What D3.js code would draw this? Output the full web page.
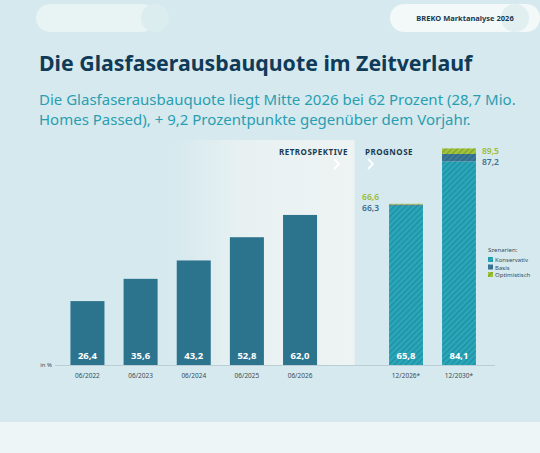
<!DOCTYPE html>
<html><head><meta charset="utf-8">
<script src="https://cdn.jsdelivr.net/npm/d3@7"></script>
<style>body{margin:0;background:#d5e9ee;}svg{display:block;font-family:"Noto Sans",sans-serif;}</style>
</head><body><svg id="c" width="540" height="453"></svg>
<script>
const retroCats=["06/2022","06/2023","06/2024","06/2025","06/2026"];
const retroVals=[26.4,35.6,43.2,52.8,62.0];
const progCats=["12/2026*","12/2030*"];
const konservativ=[65.8,84.1];
const basis=[66.3,87.2];
const optimistisch=[66.6,89.5];
const legendLabels=["Konservativ","Basis","Optimistisch"];

const svg=d3.select("#c");
const defs=svg.append("defs");
const lg=defs.append("linearGradient").attr("id","g").attr("x1",0).attr("x2",1);
lg.append("stop").attr("offset",0).attr("stop-color","#d5e9ee");
lg.append("stop").attr("offset",0.4).attr("stop-color","#e8f1f2");
lg.append("stop").attr("offset",1).attr("stop-color","#eef3f3");
function hatch(id,bg,fg){const p=defs.append("pattern").attr("id",id).attr("width",4).attr("height",4).attr("patternUnits","userSpaceOnUse").attr("patternTransform","rotate(45)");
p.append("rect").attr("width",4).attr("height",4).attr("fill",bg);p.append("rect").attr("width",1.3).attr("height",4).attr("fill",fg);}
hatch("hk","#2aa7b9","#1f8ea2");hatch("hb","#3d7a99","#2d6684");hatch("ho","#a4c43c","#7fa32a");
const fills=["url(#hk)","url(#hb)","url(#ho)"];
const labelCols=["#fff","#3d6f8e","#9bbb35"];

svg.append("rect").attr("x",36).attr("y",4).attr("width",120).attr("height",28).attr("rx",14).attr("fill","#e8f3f4");
svg.append("circle").attr("cx",155).attr("cy",18).attr("r",14).attr("fill","#dcedf0");
svg.append("rect").attr("x",390).attr("y",4).attr("width",150).attr("height",28).attr("rx",14).attr("fill","#f3f8f8");
svg.append("circle").attr("cx",515).attr("cy",18).attr("r",14).attr("fill","#e1eff1");
svg.append("text").attr("x",465).attr("y",21).attr("text-anchor","middle").attr("font-size",7.5).attr("font-weight",700).attr("fill","#173a50").text("BREKO Marktanalyse 2026");
svg.append("text").attr("x",39).attr("y",71).attr("font-size",21.3).attr("font-weight",700).attr("fill","#0f3a58").text("Die Glasfaserausbauquote im Zeitverlauf");
svg.append("text").attr("x",39).attr("y",105).attr("font-size",15).attr("fill","#2a9eb1").text("Die Glasfaserausbauquote liegt Mitte 2026 bei 62 Prozent (28,7 Mio.");
svg.append("text").attr("x",39).attr("y",125).attr("font-size",15).attr("fill","#2a9eb1").text("Homes Passed), + 9,2 Prozentpunkte gegenüber dem Vorjahr.");
svg.append("rect").attr("x",0).attr("y",422).attr("width",540).attr("height",31).attr("fill","#eef5f6");

const y=d3.scaleLinear().domain([0,100]).range([365,123]);
const xr=d3.scaleBand().domain(retroCats).range([54.5,333]).paddingInner(0.36).paddingOuter(0.3);
const xp=d3.scaleBand().domain(progCats).range([370,495]).paddingInner(0.36).paddingOuter(0.36);

svg.append("rect").attr("x",170).attr("y",140).attr("width",185).attr("height",225).attr("fill","url(#g)");
svg.append("line").attr("x1",355).attr("x2",355).attr("y1",140).attr("y2",365).attr("stroke","#dbe9ec");

svg.append("text").attr("x",348).attr("y",155).attr("text-anchor","end").attr("font-size",8).attr("font-weight",700).attr("fill","#173a50").attr("letter-spacing",0.5).text("RETROSPEKTIVE");
svg.append("text").attr("x",365).attr("y",155).attr("font-size",8).attr("font-weight",700).attr("fill","#173a50").attr("letter-spacing",0.5).text("PROGNOSE");
svg.append("path").attr("d","M334,159 l5,5 l-5,5").attr("fill","none").attr("stroke","#fff").attr("stroke-width",1.8);
svg.append("path").attr("d","M368,159 l5,5 l-5,5").attr("fill","none").attr("stroke","#fff").attr("stroke-width",1.8);

svg.selectAll(".rb").data(retroVals).join("rect").attr("x",(d,i)=>xr(retroCats[i])).attr("width",xr.bandwidth()).attr("y",d=>y(d)).attr("height",d=>y(0)-y(d)).attr("fill","#2c738e");
svg.selectAll(".rl").data(retroVals).join("text").attr("x",(d,i)=>xr(retroCats[i])+xr.bandwidth()/2).attr("y",359).attr("text-anchor","middle").attr("font-size",9.5).attr("font-weight",700).attr("fill","#fff").text(d=>d.toFixed(1).replace(".",","));

const series=[konservativ,basis,optimistisch];
progCats.forEach((c,i)=>{
  let prev=0;
  series.forEach((s,k)=>{svg.append("rect").attr("x",xp(c)).attr("width",xp.bandwidth()).attr("y",y(s[i])).attr("height",y(prev)-y(s[i])).attr("fill",fills[k]);prev=s[i];});
  svg.append("text").attr("x",xp(c)+xp.bandwidth()/2).attr("y",359).attr("text-anchor","middle").attr("font-size",9.5).attr("font-weight",700).attr("fill","#fff").text(konservativ[i].toFixed(1).replace(".",","));
});
svg.append("text").attr("x",xp(progCats[0])-10).attr("y",y(optimistisch[0])-4).attr("text-anchor","end").attr("font-size",8.5).attr("font-weight",600).attr("fill",labelCols[2]).text("66,6");
svg.append("text").attr("x",xp(progCats[0])-10).attr("y",y(optimistisch[0])+7).attr("text-anchor","end").attr("font-size",8.5).attr("font-weight",600).attr("fill",labelCols[1]).text("66,3");
svg.append("text").attr("x",xp(progCats[1])+xp.bandwidth()+6).attr("y",y(optimistisch[1])+6).attr("font-size",8.5).attr("font-weight",600).attr("fill",labelCols[2]).text("89,5");
svg.append("text").attr("x",xp(progCats[1])+xp.bandwidth()+6).attr("y",y(optimistisch[1])+17).attr("font-size",8.5).attr("font-weight",600).attr("fill",labelCols[1]).text("87,2");

const ax=svg.append("g").attr("transform","translate(0,365)");
ax.call(d3.axisBottom(xr).tickSize(0).tickPadding(8));
const ax2=svg.append("g").attr("transform","translate(0,365)");
ax2.call(d3.axisBottom(xp).tickSize(0).tickPadding(8));
[ax,ax2].forEach(a=>{a.select(".domain").attr("stroke","#b9cfd5");a.selectAll("text").attr("font-size",6.5).attr("fill","#3a4d58").attr("font-family","Noto Sans");});
ax.select(".domain").attr("d","M55,0.5H355");ax2.select(".domain").attr("d","M355,0.5H495");
svg.append("text").attr("x",52).attr("y",367).attr("text-anchor","end").attr("font-size",6).attr("fill","#3a4d58").text("in %");

svg.append("text").attr("x",488).attr("y",252).attr("font-size",6).attr("fill","#3a4d58").text("Szenarien:");
legendLabels.forEach((l,k)=>{const yy=257+k*7.5;
  svg.append("rect").attr("x",488).attr("y",yy).attr("width",5).attr("height",5).attr("fill",fills[k]);
  svg.append("text").attr("x",495).attr("y",yy+5).attr("font-size",6).attr("fill","#3a4d58").text(l);});
</script></body></html>
